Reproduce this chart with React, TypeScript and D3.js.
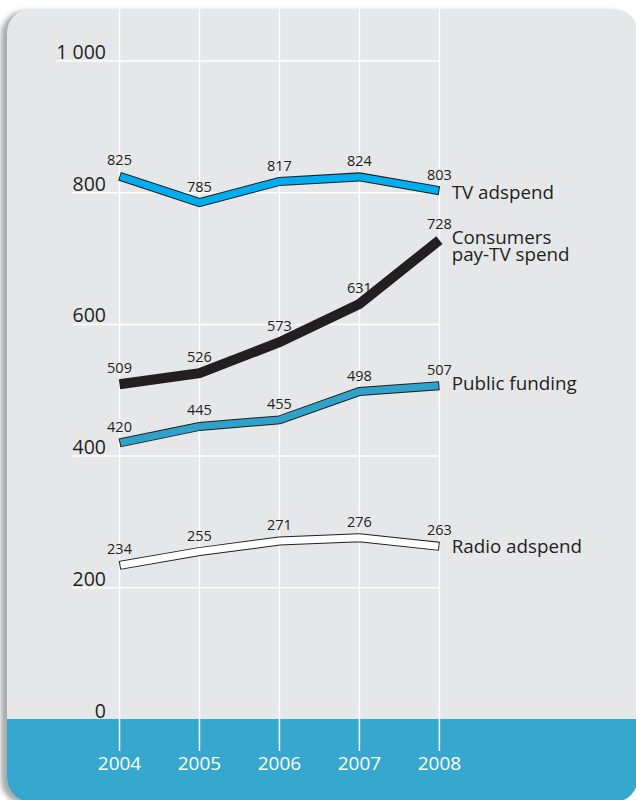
import React, { useEffect, useRef } from "react";
import * as d3 from "d3";

const years = [2004, 2005, 2006, 2007, 2008];
const tvAdspend = [825, 785, 817, 824, 803];
const payTvSpend = [509, 526, 573, 631, 728];
const publicFunding = [420, 445, 455, 498, 507];
const radioAdspend = [234, 255, 271, 276, 263];
const yTicks = [0, 200, 400, 600, 800, 1000];

const series = [
  { name: ["TV adspend"], values: tvAdspend, fill: "#00aeef", width: 9, labelDy: 8 },
  { name: ["Consumers", "pay-TV spend"], values: payTvSpend, fill: "#231f20", width: 10, labelDy: 4 },
  { name: ["Public funding"], values: publicFunding, fill: "#2fa2cb", width: 9, labelDy: 4.5 },
  { name: ["Radio adspend"], values: radioAdspend, fill: "#ffffff", width: 9, labelDy: 6.5 },
];

const W = 636;
const H = 800;
const FONT = "'Open Sans', 'Noto Sans', sans-serif";
const INK = "#231f20";

export default function App() {
  const ref = useRef<SVGSVGElement | null>(null);

  useEffect(() => {
    document.body.style.margin = "0";
    const svg = d3.select(ref.current);
    svg.selectAll("*").remove();

    const x = d3.scaleLinear().domain([2004, 2008]).range([119.5, 439.4]);
    const y = d3.scaleLinear().domain([0, 1000]).range([719.5, 61]);
    const fmt = d3.formatLocale({ decimal: ".", thousands: " ", grouping: [3], currency: ["", ""] }).format(",");

    const defs = svg.append("defs");
    const f = defs.append("filter").attr("id", "sh").attr("x", "-10%").attr("y", "-10%").attr("width", "120%").attr("height", "120%");
    f.append("feGaussianBlur").attr("stdDeviation", 2.5);
    defs.append("clipPath").attr("id", "panel")
      .append("rect").attr("x", 7).attr("y", 9).attr("width", 631).attr("height", 793).attr("rx", 24);

    // shadow
    svg.append("rect").attr("x", 1).attr("y", 11).attr("width", 631).attr("height", 793).attr("rx", 24)
      .attr("fill", "#8e8f92").attr("opacity", 0.75).attr("filter", "url(#sh)");

    const g = svg.append("g").attr("clip-path", "url(#panel)");
    g.append("rect").attr("x", 0).attr("y", 0).attr("width", W + 10).attr("height", H + 10).attr("fill", "#e6e7e8");
    g.append("rect").attr("x", 0).attr("y", y(0) - 0.5).attr("width", W + 10).attr("height", 100).attr("fill", "#36a7cd");

    // vertical gridlines
    g.selectAll("line.vg").data(years).join("line")
      .attr("x1", (d) => x(d)).attr("x2", (d) => x(d))
      .attr("y1", 0).attr("y2", 751)
      .attr("stroke", "#ffffff").attr("stroke-width", 1.5);

    // y tick labels
    const yl = g.selectAll("text.yl").data(yTicks).join("text")
      .attr("x", 106).attr("y", (d) => y(d) - 2)
      .attr("text-anchor", "end")
      .attr("font-family", FONT).attr("font-size", 19.5)
      .attr("fill", INK)
      .text((d) => fmt(d));

    // horizontal gridlines starting at label left
    yl.each(function (d) {
      if (d === 0) return;
      const w = (this as SVGTextElement).getComputedTextLength();
      g.append("line")
        .attr("x1", 106 - w).attr("x2", x(2008) + 0.75)
        .attr("y1", y(d)).attr("y2", y(d))
        .attr("stroke", "#ffffff").attr("stroke-width", 1.5);
    });
    yl.raise();

    // year labels
    g.selectAll("text.xl").data(years).join("text")
      .attr("x", (d) => x(d)).attr("y", 770)
      .attr("text-anchor", "middle")
      .attr("font-family", FONT).attr("font-size", 19)
      .attr("fill", "#ffffff")
      .text((d) => String(d));

    const line = d3.line<[number, number]>().x((p) => p[0]).y((p) => p[1]);

    series.forEach((s) => {
      const pts: [number, number][] = s.values.map((v, i) => [x(years[i]), y(v)]);
      g.append("path").attr("d", line(pts))
        .attr("fill", "none").attr("stroke", INK).attr("stroke-width", s.width)
        .attr("stroke-linejoin", "miter").attr("stroke-linecap", "butt");
      if (s.fill !== INK) {
        const inner = pts.map((p) => [p[0], p[1]] as [number, number]);
        const shrink = (a: [number, number], b: [number, number]) => {
          const dx = b[0] - a[0], dy = b[1] - a[1];
          const len = Math.hypot(dx, dy);
          return [a[0] + (dx / len) * 1, a[1] + (dy / len) * 1] as [number, number];
        };
        inner[0] = shrink(pts[0], pts[1]);
        const n = pts.length - 1;
        inner[n] = shrink(pts[n], pts[n - 1]);
        g.append("path").attr("d", line(inner))
          .attr("fill", "none").attr("stroke", s.fill).attr("stroke-width", s.width - 2)
          .attr("stroke-linejoin", "miter").attr("stroke-linecap", "butt");
      }
      // value labels
      s.values.forEach((v, i) => {
        g.append("text")
          .attr("x", x(years[i])).attr("y", y(v) - 11)
          .attr("text-anchor", "middle")
          .attr("font-family", FONT).attr("font-size", 14.5)
          .attr("fill", INK)
          .text(String(v));
      });
      // series label
      const last = s.values[s.values.length - 1];
      const t = g.append("text")
        .attr("x", 451.7).attr("y", y(last) + s.labelDy)
        .attr("font-family", FONT).attr("font-size", 18.8)
        .attr("fill", INK);
      s.name.forEach((nm, k) => {
        t.append("tspan").attr("x", 451.7).attr("dy", k === 0 ? 0 : 17).text(nm);
      });
    });
  }, []);

  return <svg ref={ref} width={W} height={H} style={{ display: "block", background: "#ffffff" }} />;
}
